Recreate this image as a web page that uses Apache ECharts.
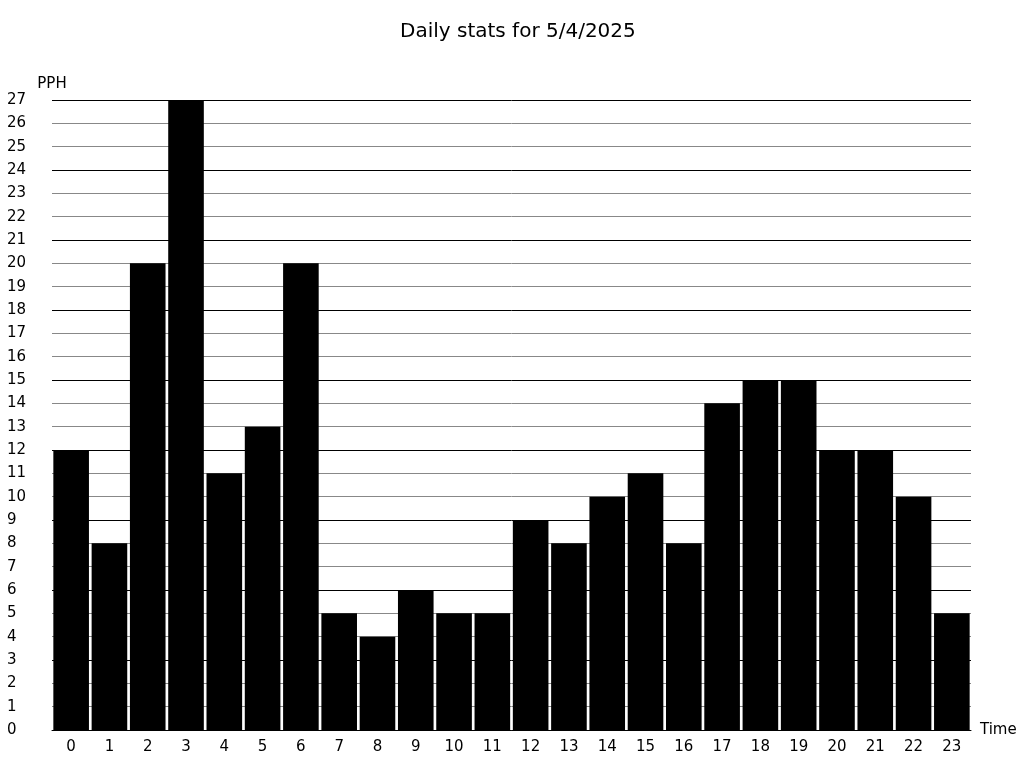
<!DOCTYPE html>
<html>
<head>
<meta charset="utf-8">
<script src="https://cdn.jsdelivr.net/npm/echarts@6/dist/echarts.min.js"></script>
<style>html,body{margin:0;padding:0;background:#fff}#c{width:1024px;height:768px}</style>
</head>
<body>
<div id="c"></div>
<script>
const title = 'Daily stats for 5/4/2025';
const hours = ['0','1','2','3','4','5','6','7','8','9','10','11','12','13','14','15','16','17','18','19','20','21','22','23'];
const pph = [12, 8, 20, 27, 11, 13, 20, 5, 4, 6, 5, 5, 9, 8, 10, 11, 8, 14, 15, 15, 12, 12, 10, 5];
const yMin = 0, yMax = 27;

const chart = echarts.init(document.getElementById('c'), null, {renderer: 'canvas'});
const font = 'DejaVu Sans';
chart.setOption({
  animation: false,
  backgroundColor: '#fff',
  title: {
    text: title, left: 395, top: 17,
    textStyle: {fontFamily: font, fontSize: 20, fontWeight: 'normal', color: '#000'}
  },
  grid: {left: 52, right: 53, top: 100, bottom: 38, containLabel: false},
  xAxis: {
    type: 'category', data: hours,
    name: 'Time', nameLocation: 'end', nameGap: 9,
    nameTextStyle: {fontFamily: font, fontSize: 15, color: '#000', verticalAlign: 'middle'},
    axisLine: {show: true, lineStyle: {color: '#000', width: 1}},
    axisTick: {show: false},
    axisLabel: {fontFamily: font, fontSize: 15, color: '#000', margin: 10, interval: 0},
    splitLine: {show: false}
  },
  yAxis: {
    type: 'value', min: yMin, max: yMax, interval: 1,
    name: 'PPH', nameLocation: 'end', nameGap: 8,
    nameTextStyle: {fontFamily: font, fontSize: 15, color: '#000', align: 'center'},
    axisLine: {show: false},
    axisTick: {show: false},
    axisLabel: {fontFamily: font, fontSize: 15, color: '#000', align: 'left', margin: 45},
    splitLine: {show: true, lineStyle: {color: ['#000', '#888', '#888'], width: 1}}
  },
  series: [{
    type: 'bar', data: pph,
    barCategoryGap: '7%',
    itemStyle: {color: '#000'}
  }]
});
</script>
</body>
</html>
